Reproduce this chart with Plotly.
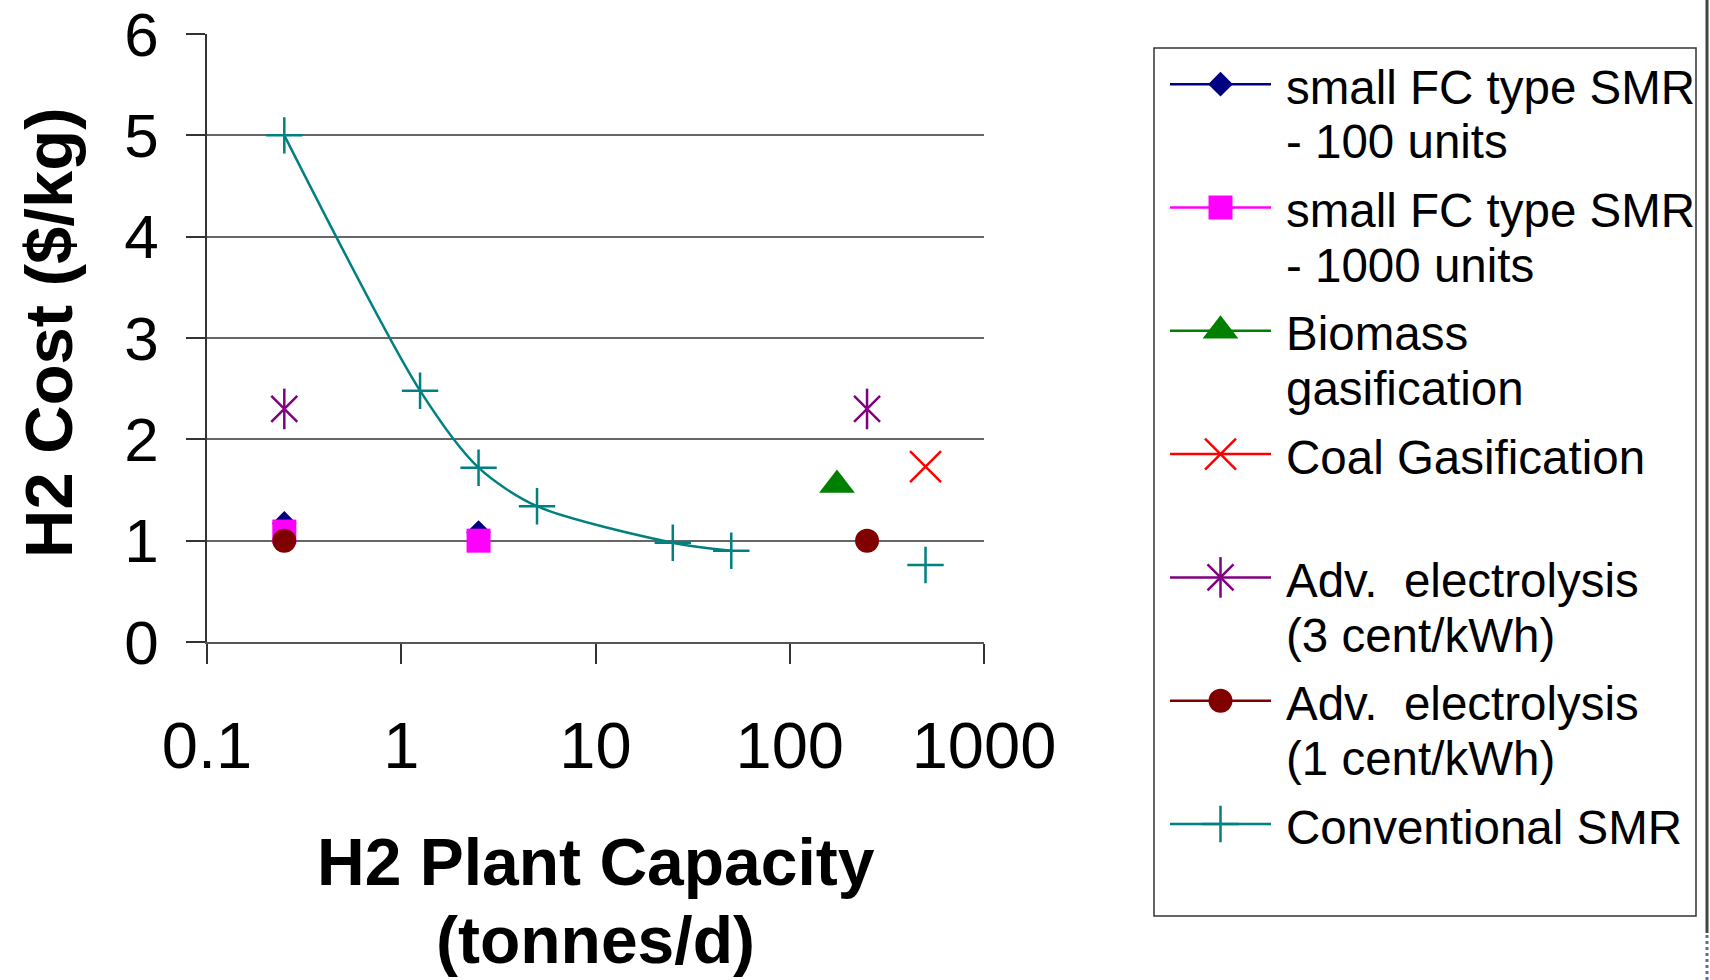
import plotly.graph_objects as go

# Plant capacity (tonnes/d) and hydrogen cost ($/kg) for each production route
fc100_x = [0.25, None, 2.5]
fc100_y = [1.17, None, 1.08]

fc1000_x = [0.25, None, 2.5]
fc1000_y = [1.09, None, 1.0]

biomass_x = [175]
biomass_y = [1.55]

coal_x = [500]
coal_y = [1.73]

elec3_x = [0.25, None, 250]
elec3_y = [2.3, None, 2.3]

elec1_x = [0.25, None, 250]
elec1_y = [1.0, None, 1.0]

smr_x = [0.25, 1.25, 2.5, 5, 25, 50, None, 500]
smr_y = [5.0, 2.48, 1.72, 1.34, 0.98, 0.9, None, 0.76]

x_ticks = [0.1, 1, 10, 100, 1000]
x_tick_labels = ["0.1", "1", "10", "100", "1000"]
y_ticks = [0, 1, 2, 3, 4, 5, 6]
y_grid = [1, 2, 3, 4, 5]

series_names = [
    ["small FC type SMR", "- 100 units"],
    ["small FC type SMR", "- 1000 units"],
    ["Biomass", "gasification"],
    ["Coal Gasification"],
    ["Adv. \u00a0electrolysis", "(3 cent/kWh)"],
    ["Adv. \u00a0electrolysis", "(1 cent/kWh)"],
    ["Conventional SMR"],
]

FONT = "Liberation Sans, Arial, sans-serif"
W, H = 1710, 980

# plot area in pixels
PL, PR, PT, PB = 207, 984, 34, 642

NAVY, MAGENTA, GREEN, RED = "#000080", "#FF00FF", "#008000", "#FF0000"
PURPLE, MAROON, TEAL = "#800080", "#800000", "#008080"

# (x, y, color, marker list); a marker list with two entries is overlaid
styles = [
    (fc100_x, fc100_y, NAVY, [dict(symbol="diamond", size=19)]),
    (fc1000_x, fc1000_y, MAGENTA, [dict(symbol="square", size=24)]),
    (biomass_x, biomass_y, GREEN, [dict(symbol="triangle-up", size=31)]),
    (coal_x, coal_y, RED, [dict(symbol="x-thin-open", size=31, line=dict(width=2.5))]),
    (elec3_x, elec3_y, PURPLE, [dict(symbol="x-thin-open", size=26, line=dict(width=2.5)),
                                dict(symbol="line-ns-open", size=29, line=dict(width=2.5))]),
    (elec1_x, elec1_y, MAROON, [dict(symbol="circle", size=24)]),
    (smr_x, smr_y, TEAL, [dict(symbol="cross-thin-open", size=26, line=dict(width=2.5))]),
]


def colored(marker, color):
    m = dict(marker)
    m["color"] = color
    if "line" in m:
        m["line"] = dict(m["line"], color=color)
    return m


fig = go.Figure()

# gridlines live on an overlay axis so the top edge stays open
fig.add_trace(go.Scatter(x=[None], y=[None], xaxis="x", yaxis="y2",
                         showlegend=False, hoverinfo="skip"))

for (xs, ys, color, markers), name in zip(styles, series_names):
    for k, mk in enumerate(markers):
        fig.add_trace(go.Scatter(
            x=xs, y=ys, name=" ".join(name),
            mode="lines+markers" if k == 0 else "markers",
            line=dict(color=color, width=2.5, shape="spline", smoothing=0.8),
            marker=colored(mk, color), connectgaps=False, showlegend=False,
        ))

# ---- legend panel, laid out in pixel units on a full-figure frame ----
LEG_X0, LEG_X1, LEG_Y0, LEG_Y1 = 1154, 1696, 48, 916
SYM_X0, SYM_X1, TEXT_X = 1170, 1271, 1284
FIRST_LINE, ENTRY_STEP, LINE_STEP = 87.2, 123.3, 54.6

annotations = []
for i, ((xs, ys, color, markers), lines) in enumerate(zip(styles, series_names)):
    top = FIRST_LINE + i * ENTRY_STEP
    sym_y = top - 3
    fig.add_trace(go.Scatter(
        x=[SYM_X0, SYM_X1], y=[sym_y, sym_y], xaxis="x3", yaxis="y3",
        mode="lines", line=dict(color=color, width=2.5),
        showlegend=False, hoverinfo="skip"))
    for mk in markers:
        fig.add_trace(go.Scatter(
            x=[(SYM_X0 + SYM_X1) / 2], y=[sym_y], xaxis="x3", yaxis="y3",
            mode="markers", marker=colored(mk, color),
            showlegend=False, hoverinfo="skip"))
    for j, txt in enumerate(lines):
        annotations.append(dict(
            x=TEXT_X, y=top + j * LINE_STEP, xref="x3", yref="y3",
            text=txt, showarrow=False, xanchor="left", yanchor="middle",
            font=dict(family=FONT, size=47.5, color="black")))

# x-axis title, two lines
for txt, yc in (("<b>H2 Plant Capacity</b>", 862), ("<b>(tonnes/d)</b>", 940)):
    annotations.append(dict(
        x=(PL + PR) / 2, y=yc, xref="x3", yref="y3", text=txt,
        showarrow=False, xanchor="center", yanchor="middle",
        font=dict(family=FONT, size=66, color="black")))

# y-axis title, rotated
annotations.append(dict(
    x=48, y=333, xref="x3", yref="y3", text="<b>H2 Cost ($/kg)</b>",
    textangle=-90, showarrow=False, xanchor="center", yanchor="middle",
    font=dict(family=FONT, size=67, color="black")))

shapes = [
    dict(type="rect", xref="x3", yref="y3", x0=LEG_X0, x1=LEG_X1,
         y0=LEG_Y0, y1=LEG_Y1, line=dict(color="#333333", width=1.5),
         fillcolor="rgba(0,0,0,0)", layer="below"),
    dict(type="line", xref="x3", yref="y3", x0=1707, x1=1707, y0=0, y1=933,
         line=dict(color="#444444", width=3)),
    dict(type="line", xref="x3", yref="y3", x0=1707, x1=1707, y0=935, y1=980,
         line=dict(color="#5a6f9a", width=3, dash="dot")),
]

hidden = dict(visible=False, showgrid=False, zeroline=False, fixedrange=True)

fig.update_layout(
    width=W, height=H,
    margin=dict(l=0, r=0, t=0, b=0, pad=0, autoexpand=False),
    paper_bgcolor="white", plot_bgcolor="rgba(0,0,0,0)",
    font=dict(family=FONT, color="black"),
    showlegend=False,
    xaxis=dict(
        domain=[PL / W, PR / W],
        type="log", range=[-1, 3], automargin=False,
        tickvals=x_ticks, ticktext=x_tick_labels,
        ticks="outside", ticklen=20, tickwidth=1.5, tickcolor="#333333",
        ticklabelstandoff=26, ticklabeloverflow="allow",
        tickfont=dict(family=FONT, size=65, color="black"),
        showgrid=False, zeroline=False,
        showline=True, linecolor="#555555", linewidth=2,
    ),
    yaxis=dict(
        domain=[1 - PB / H, 1 - PT / H],
        range=[0, 6], tickvals=y_ticks, automargin=False,
        ticks="outside", ticklen=19, tickwidth=1.5, tickcolor="#333333",
        ticklabelstandoff=15, ticklabeloverflow="allow",
        tickfont=dict(family=FONT, size=62, color="black"),
        showgrid=False, zeroline=False,
        showline=True, linecolor="#333333", linewidth=1.5,
    ),
    yaxis2=dict(
        range=[0, 6], overlaying="y", tickvals=y_grid, automargin=False,
        showgrid=True, gridcolor="#666666", gridwidth=2,
        showticklabels=False, ticks="", zeroline=False, showline=False,
        fixedrange=True,
    ),
    xaxis3=dict(domain=[0, 1], range=[0, W], anchor="y3", automargin=False, **hidden),
    yaxis3=dict(domain=[0, 1], range=[H, 0], anchor="x3", automargin=False, **hidden),
    annotations=annotations,
    shapes=shapes,
)

fig.write_html("out.html")
